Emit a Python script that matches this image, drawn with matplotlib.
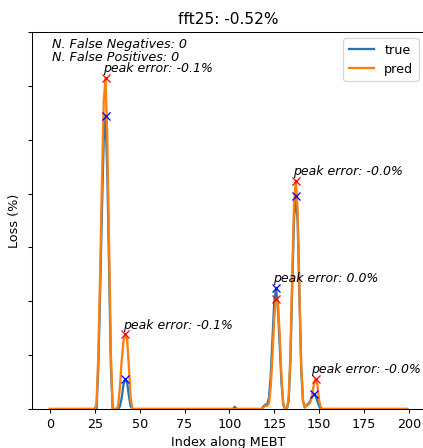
import numpy as np
import matplotlib
matplotlib.use("Agg")
import matplotlib.pyplot as plt

# index along MEBT (0..199), loss is zero outside the listed segments
n_points = 200

# (start index, values) for the non-zero parts of each curve
true_segments = [
    (26, [0.0, 0.08, 0.22, 0.37, 0.50, 0.544, 0.44, 0.26, 0.08, 0.0]),
    (38, [0.0, 0.005, 0.02, 0.045, 0.0556, 0.05, 0.025, 0.005, 0.0]),
    (102, [0.0, 0.004, 0.0]),
    (118, [0.0, 0.005, 0.008, 0.008, 0.02, 0.06, 0.13, 0.20, 0.2246, 0.19, 0.12,
           0.05, 0.008, 0.0, 0.0, 0.015, 0.09, 0.23, 0.355, 0.395, 0.35, 0.21,
           0.075, 0.015, 0.003, 0.007, 0.01, 0.015, 0.022, 0.0283, 0.025, 0.015,
           0.005, 0.0]),
]
pred_segments = [
    (25, [0.0, 0.01, 0.10, 0.25, 0.42, 0.57, 0.615, 0.50, 0.30, 0.10, 0.0]),
    (37, [0.0, 0.005, 0.04, 0.09, 0.125, 0.139, 0.13, 0.08, 0.02, 0.0]),
    (118, [0.0, 0.003, 0.006, 0.006, 0.01, 0.04, 0.10, 0.17, 0.205, 0.20, 0.14,
           0.06, 0.01, 0.0, 0.0, 0.02, 0.10, 0.25, 0.38, 0.424, 0.37, 0.22, 0.08,
           0.015, 0.003, 0.006, 0.008, 0.012, 0.025, 0.045, 0.0556, 0.045, 0.015,
           0.002, 0.0]),
]

# detected peaks
true_peak_idx = [31, 42, 126, 137, 147]
pred_peak_idx = [31, 42, 126, 137, 148]
peak_errors = ["-0.1", "-0.1", "0.0", "-0.0", "-0.0"]

title = "fft25: -0.52%"
n_false_neg = 0
n_false_pos = 0


def build(segments):
    y = np.zeros(n_points)
    for start, vals in segments:
        y[start:start + len(vals)] = vals
    return y


x = np.arange(n_points)
y_true = build(true_segments)
y_pred = build(pred_segments)

fig = plt.figure(figsize=(423 / 92, 448 / 92), dpi=92)
ax = fig.add_axes([32 / 423, 39 / 448, 393 / 423, 377 / 448])

ax.plot(x, y_true, label="true", lw=1.8)
ax.plot(x, y_pred, label="pred", lw=1.8)

ax.plot(x[true_peak_idx], y_true[true_peak_idx], "bx")
ax.plot(x[pred_peak_idx], y_pred[pred_peak_idx], "rx")

for ti, pi, err in zip(true_peak_idx, pred_peak_idx, peak_errors):
    top = max(y_true[ti], y_pred[pi])
    ax.annotate(f"peak error: {err}%", (ti, top), xytext=(-2, 2),
                textcoords="offset points", ha="left", va="bottom",
                style="italic", fontsize=9.8)

ax.text(0.05, 0.985, f"N. False Negatives: {n_false_neg}\nN. False Positives: {n_false_pos}",
        transform=ax.transAxes, ha="left", va="top", style="italic",
        linespacing=1.0)

ax.set_xlim(-9.95, 208.95)
ax.set_ylim(0, 0.7)
ax.set_yticks(np.arange(0, 0.71, 0.1))
ax.set_yticklabels([])
ax.set_xlabel("Index along MEBT")
ax.set_ylabel("Loss (%)")
ax.yaxis.set_label_coords(-0.027, 0.5)
ax.set_title(title)
ax.legend(loc="upper right")

fig.savefig("out.png", dpi=92)
